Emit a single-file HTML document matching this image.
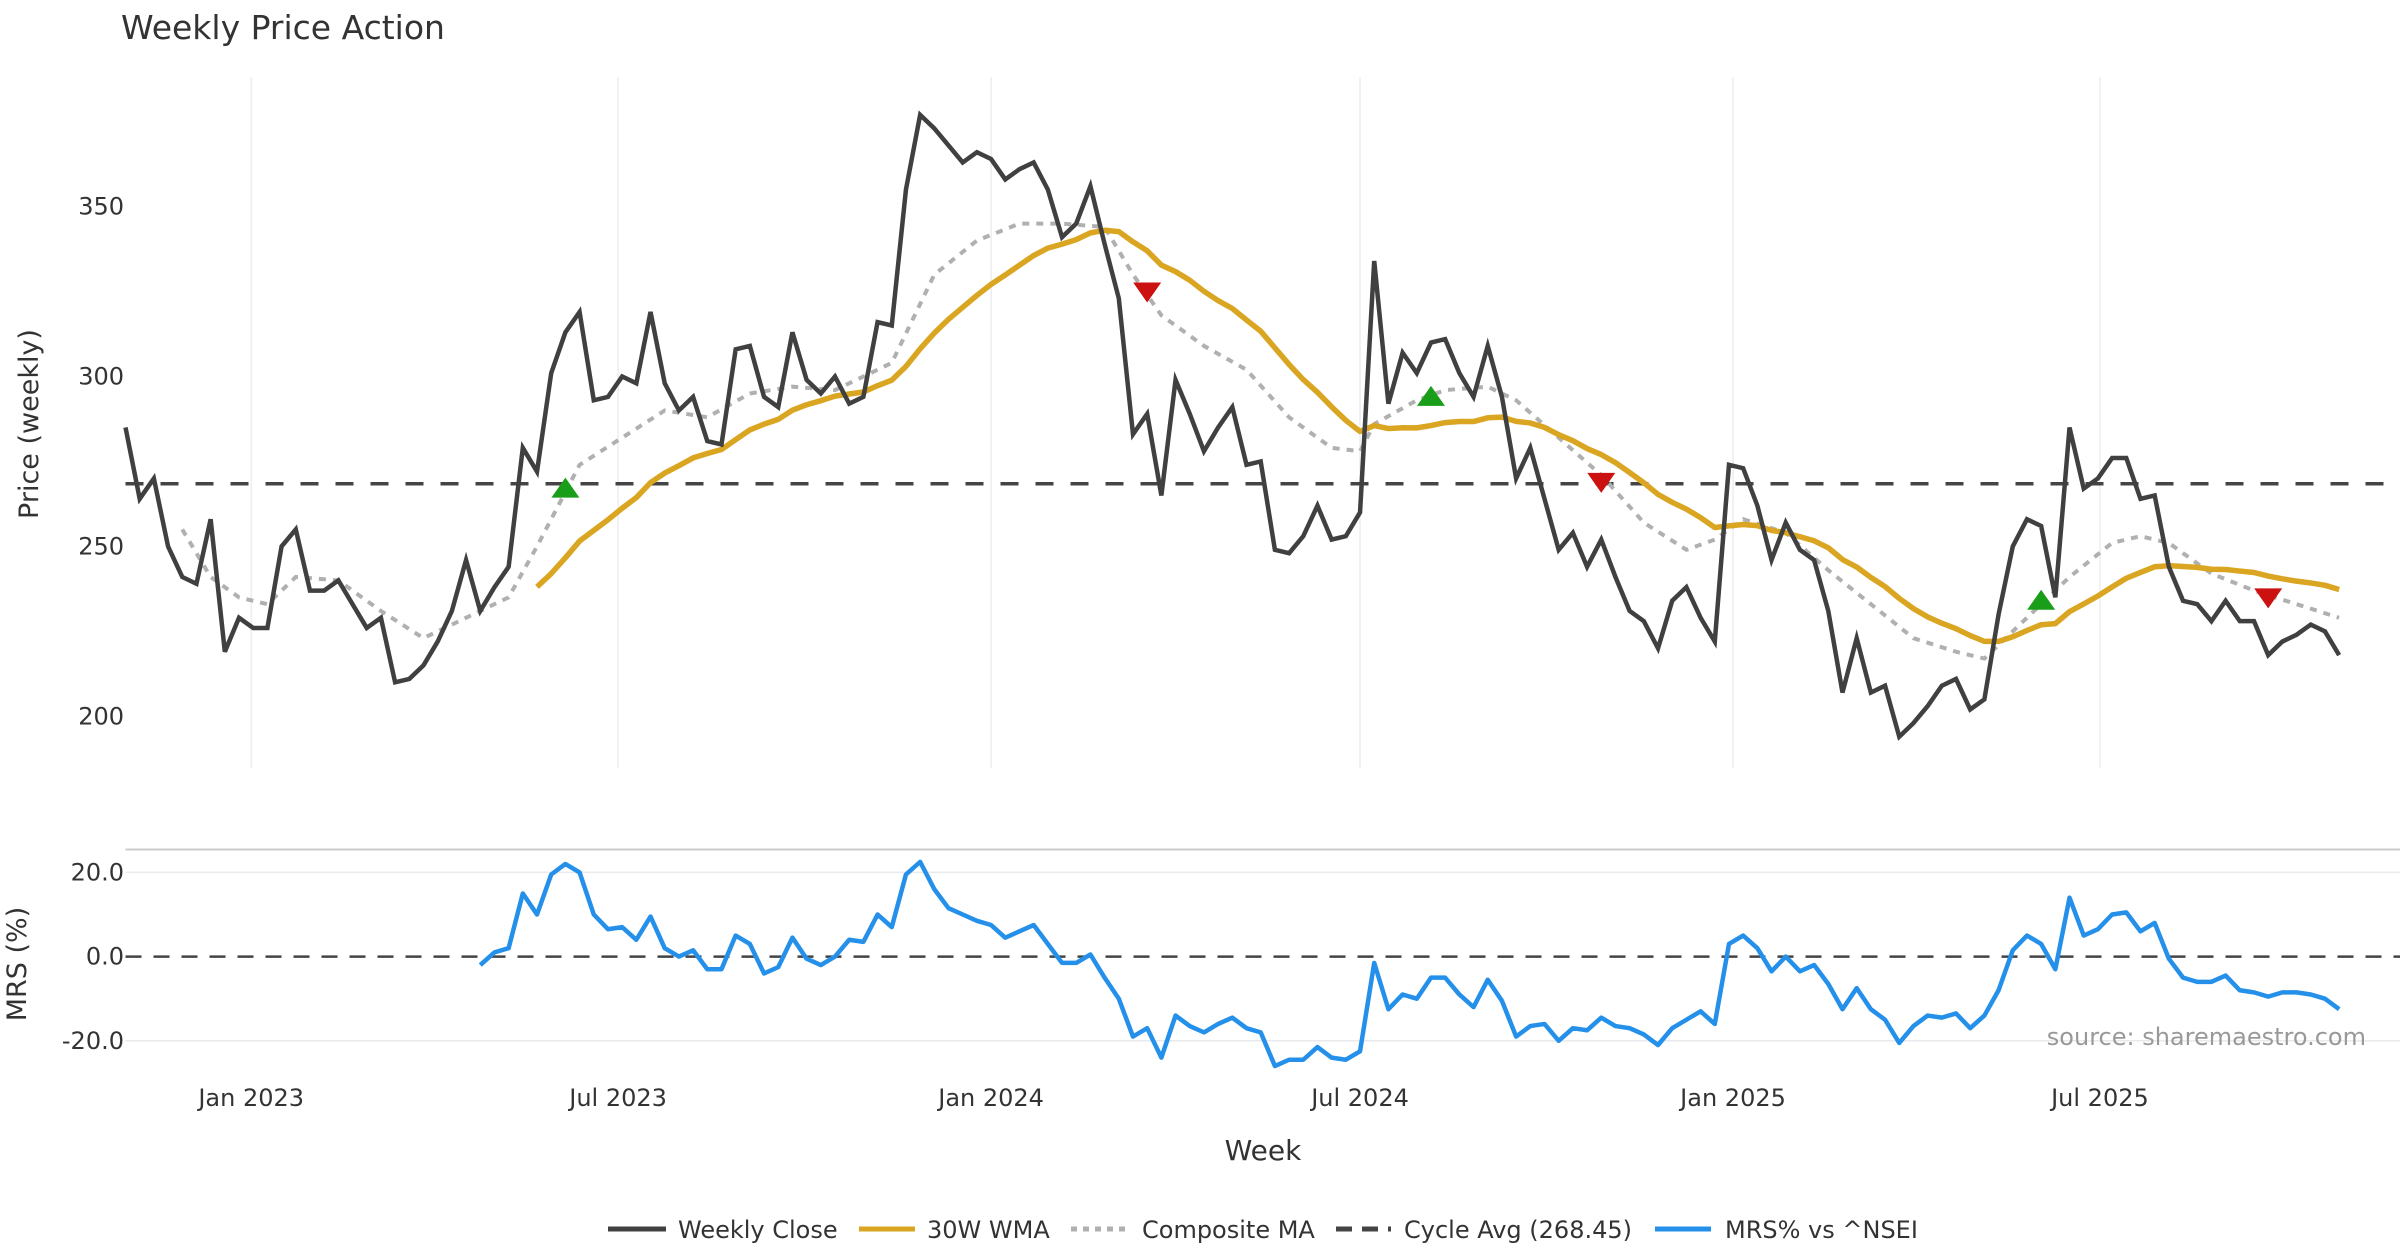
<!DOCTYPE html>
<html><head><meta charset="utf-8"><style>
html,body{margin:0;padding:0;background:#fff;}
svg{display:block;font-family:"DejaVu Sans","Liberation Sans",sans-serif;}
</style></head><body>
<svg id="chart" width="2400" height="1260" viewBox="0 0 2400 1260" xmlns="http://www.w3.org/2000/svg">
<text x="121" y="39" font-size="33" fill="#333">Weekly Price Action</text>
<g id="grid"></g><g id="series"></g><g id="axes"></g>
<text x="2366" y="1045" font-size="24" fill="#999" text-anchor="end">source: sharemaestro.com</text>
<g id="legend"></g>
</svg>
<script>
const closes=[285,264,270,250,241,239,258,219,229,226,226,250,255,237,237,240,233,226,229,210,211,215,222,231,246,231,238,244,279,272,301,313,319,293,294,300,298,319,298,290,294,281,280,308,309,294,291,313,299,295,300,292,294,316,315,355,377,373,368,363,366,364,358,361,363,355,341,345,356,339,323,283,289,265,299,289,278,285,291,274,275,249,248,253,262,252,253,260,334,292,307,301,310,311,301,294,309,294,270,279,264,249,254,244,252,241,231,228,220,234,238,229,222,274,273,262,246,257,249,246,231,207,223,207,209,194,198,203,209,211,202,205,230,250,258,256,235,285,267,270,276,276,264,265,244,234,233,228,234,228,228,218,222,224,227,225,218];
const compIdx=[4,6,8,10,12,15,18,21,24,27,29,32,35,38,41,44,47,50,54,57,60,63,66,69,71,73,76,79,82,85,87,88,91,93,96,98,101,104,107,110,112,114,117,120,123,126,129,131,134,137,140,142,144,147,150,153,156];
const compVal=[255,241,235,233,241,240,231,223,229,235,250,274,282,290,288,295,297,296,304,330,340,345,345,344,330,318,309,302,288,279,278,286,293,296,297,293,282,271,257,249,252,258,254,243,233,223,219,217,229,241,251,253,251,242,237,233,229];
const mrsStart=25;
const mrs=[-2,1,2,15,10,19.5,22,20,10,6.5,7,4,9.5,2,0,1.5,-3,-3,5,3,-4,-2.5,4.5,-0.5,-2,0,4,3.5,10,7,19.5,22.5,16,11.5,10,8.5,7.5,4.5,6,7.5,3,-1.5,-1.5,0.5,-5,-10,-19,-17,-24,-14,-16.5,-18,-16,-14.5,-17,-18,-26,-24.5,-24.5,-21.5,-24,-24.5,-22.5,-1.5,-12.5,-9,-10,-5,-5,-9,-12,-5.5,-10.5,-19,-16.5,-16,-20,-17,-17.5,-14.5,-16.5,-17,-18.5,-21,-17,-15,-13,-16,3,5,2,-3.5,0,-3.5,-2,-6.5,-12.5,-7.5,-12.5,-15,-20.5,-16.5,-14,-14.5,-13.5,-17,-14,-8,1.5,5,3,-3,14,5,6.5,10,10.5,6,8,-0.5,-5,-6,-6,-4.5,-8,-8.5,-9.5,-8.5,-8.5,-9,-10,-12.5];
const buyIdx=[31,92,135], buyVal=[267,294,234];
const sellIdx=[72,104,151], sellVal=[325,269,235];
const cycleAvg=268.45;
const priceTicks=[200,250,300,350];
const mrsTicks=[-20,0,20];
const dateTicks=[["Jan 2023","2023-01-01"],["Jul 2023","2023-07-01"],["Jan 2024","2024-01-01"],["Jul 2024","2024-07-01"],["Jan 2025","2025-01-01"],["Jul 2025","2025-07-01"]];
const startDate=new Date("2022-10-31");

const NS="http://www.w3.org/2000/svg";
const X0=125.5, STEP=14.19;
const xi=i=>X0+i*STEP;
const py=v=>206.6+(350-v)*3.398;
const my=v=>956.6-v*4.21;
function mk(tag,attrs,parent){const e=document.createElementNS(NS,tag);for(const k in attrs)e.setAttribute(k,attrs[k]);parent.appendChild(e);return e;}
const grid=document.getElementById('grid'),ser=document.getElementById('series'),axes=document.getElementById('axes'),leg=document.getElementById('legend');

dateTicks.forEach(d=>{
  const idx=(new Date(d[1])-startDate)/(7*86400000);
  const x=xi(idx);
  const g=mk('line',{x1:x,x2:x,y1:77,y2:768,stroke:'#ebedf0','stroke-width':1.5},grid);
  
  
  const t=mk('text',{x:x,y:1106,'font-size':24,fill:'#333','text-anchor':'middle'},axes);
  t.textContent=d[0];
  
  
});
priceTicks.forEach(v=>{
  const t=mk('text',{x:124,y:py(v)+8,'font-size':24,fill:'#333','text-anchor':'end'},axes);
  t.textContent=v;
  
  
});
mrsTicks.forEach(v=>{
  if(v!==0){const g=mk('line',{x1:125.5,x2:2400,y1:my(v),y2:my(v),stroke:'#e8eaee','stroke-width':1.5},grid);
  
  }
  const t=mk('text',{x:124,y:my(v)+8,'font-size':24,fill:'#333','text-anchor':'end'},axes);
  t.textContent=v.toFixed(1);
  
  
});
const sep=mk('line',{x1:125.5,x2:2400,y1:849.5,y2:849.5,stroke:'#cccccc','stroke-width':2},grid);


const z=mk('line',{x1:125.5,x2:2400,y1:my(0),y2:my(0),stroke:'#444','stroke-width':2.5,'stroke-dasharray':'16 12'},grid);



let t=mk('text',{x:0,y:0,'font-size':27,fill:'#333','text-anchor':'middle',transform:'translate(38,424) rotate(-90)'},axes);
t.textContent='Price (weekly)';


t=mk('text',{x:0,y:0,'font-size':27,fill:'#333','text-anchor':'middle',transform:'translate(26,964) rotate(-90)'},axes);
t.textContent='MRS (%)';


t=mk('text',{x:1263,y:1160,'font-size':28,fill:'#333','text-anchor':'middle'},axes);
t.textContent='Week';



const ca=mk('line',{x1:125.5,x2:2400,y1:py(cycleAvg),y2:py(cycleAvg),stroke:'#444','stroke-width':3.5,'stroke-dasharray':'18 17'},ser);



let pts=compIdx.map((i,k)=>xi(i)+','+py(compVal[k])).join(' ');
const cp=mk('polyline',{points:pts,fill:'none',stroke:'#b0b0b0','stroke-width':4,'stroke-dasharray':'7 7'},ser);



const wpts=[];
for(let i=29;i<closes.length;i++){let s=0,w=0;for(let j=0;j<30;j++){s+=closes[i-j]*(30-j);w+=30-j;}wpts.push(xi(i)+','+py(s/w));}
const wl=mk('polyline',{points:wpts.join(' '),fill:'none',stroke:'#DAA520','stroke-width':5.5,'stroke-linejoin':'round'},ser);



pts=closes.map((v,i)=>xi(i)+','+py(v)).join(' ');
const cl=mk('polyline',{points:pts,fill:'none',stroke:'#404040','stroke-width':4.5,'stroke-linejoin':'miter'},ser);



buyIdx.forEach((i,k)=>{const x=xi(i),y=py(buyVal[k]);
  const m=mk('polygon',{points:`${x-14},${y+9} ${x+14},${y+9} ${x},${y-11}`,fill:'#1a9e1a'},ser);
  
  });
sellIdx.forEach((i,k)=>{const x=xi(i),y=py(sellVal[k]);
  const m=mk('polygon',{points:`${x-14},${y-9} ${x+14},${y-9} ${x},${y+11}`,fill:'#cc1111'},ser);
  
  });

pts=mrs.map((v,k)=>xi(mrsStart+k)+','+my(v)).join(' ');
const ml=mk('polyline',{points:pts,fill:'none',stroke:'#2590EA','stroke-width':4.5,'stroke-linejoin':'round'},ser);



const items=[[608,666,'Weekly Close','#404040','',678],[859,915,'30W WMA','#DAA520','',927],[1071,1128,'Composite MA','#b0b0b0','6 6',1142],[1336,1391,'Cycle Avg (268.45)','#444','16 10',1404],[1655,1711,'MRS% vs ^NSEI','#2590EA','',1725]];
items.forEach(it=>{
  const l=mk('line',{x1:it[0],x2:it[1],y1:1229,y2:1229,stroke:it[3],'stroke-width':5},leg);
  if(it[4])l.setAttribute('stroke-dasharray',it[4]);
  
  
  const tx=mk('text',{x:it[5],y:1238,'font-size':24,fill:'#333'},leg);
  tx.textContent=it[2];
  
  
});
</script>
</body></html>
